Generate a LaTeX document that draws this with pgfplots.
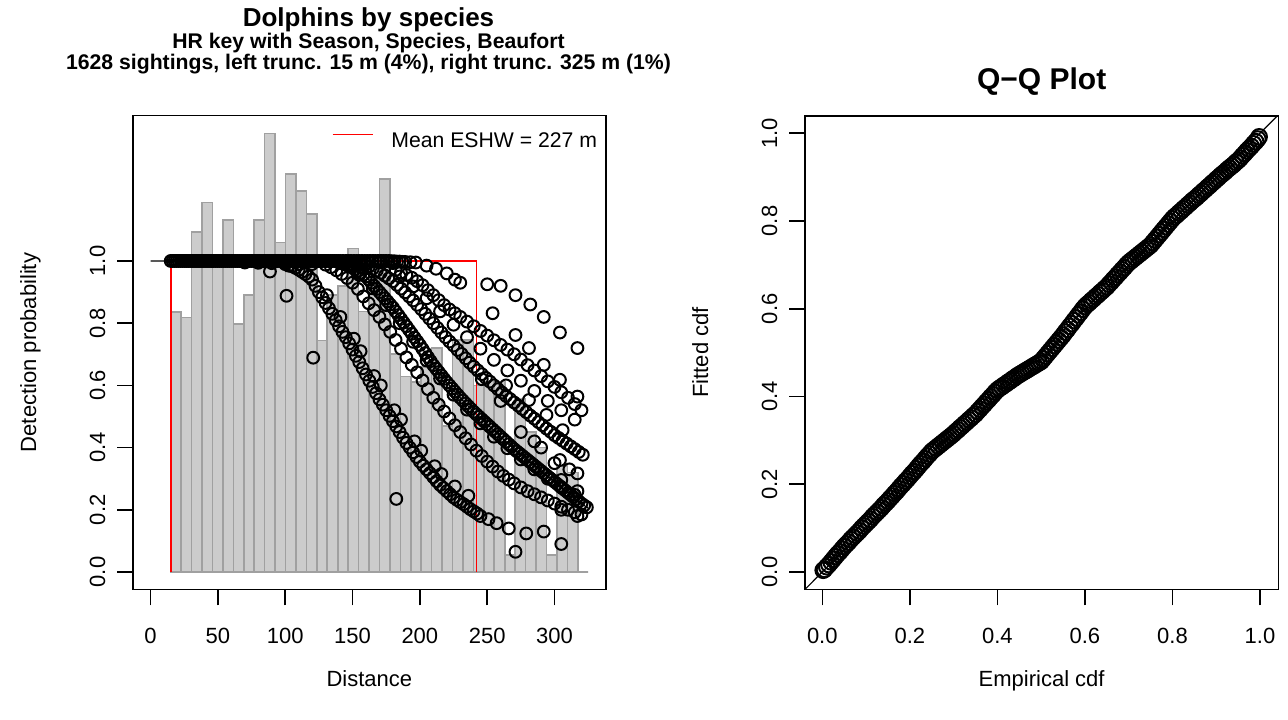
\documentclass[border=0pt]{standalone}
\usepackage{fontspec}
\setmainfont{Liberation Sans}
\usepackage{pgfplots}
\pgfplotsset{compat=1.18}
\definecolor{barfill}{RGB}{204,204,204}
\definecolor{barline}{RGB}{160,160,160}
\newcommand\fs[1]{\fontsize{#1}{#1}\selectfont}
\begin{document}
\begin{tikzpicture}
\path[use as bounding box] (0,0) rectangle (644pt,359.5pt);
\pgfplotsset{
  rstyle/.style={
    scale only axis,
    axis line style={line width=0.8pt},
    every tick/.style={line width=0.8pt, black},
    major tick length=8pt,
    tick align=outside,
    tick pos=left,
    ticklabel style={font=\fs{11}},
    label style={font=\fs{11}},
    /pgf/number format/assume math mode=true,
    xticklabel style={anchor=base, yshift=-19pt},
    yticklabel style={xshift=-6pt, rotate=90, anchor=base},
  },
  rmark/.style={only marks, mark=o, mark size=2.95pt, line width=1pt, black},
}
% ---------------- left panel ----------------
\begin{axis}[rstyle, at={(66.5pt,64.85pt)}, anchor=south west,
  width=236.35pt, height=236.8pt,
  xmin=-13, xmax=338, ymin=-0.0556, ymax=1.467,
  xtick={0,50,100,150,200,250,300}, xticklabels={0,50,100,150,200,250,300},
  ytick={0,0.2,0.4,0.6,0.8,1}, yticklabels={0.0,0.2,0.4,0.6,0.8,1.0},
  xlabel={Distance}, ylabel={Detection probability},
  xlabel style={at={(axis description cs:0.5,-0.2042)}, anchor=base},
  ylabel style={at={(axis description cs:-0.2052,0.5)}, anchor=base},
  legend style={draw=none, fill=none, at={(axis description cs:0.9816,0.9451)}, anchor=east,
    inner sep=0pt, outer sep=0pt, nodes={inner sep=0pt}, font=\fs{10.6}},
  legend cell align=left,
  legend image code/.code={\draw[#1] (0pt,0.36em) -- (20pt,0.36em); \path (29pt,0pt);},
]
\addplot[ybar interval, fill=barfill, draw=barline, line width=0.8pt, forget plot] coordinates {
(15,0.835)(22.75,0.818)(30.5,1.094)(38.25,1.188)(46,0.99)(53.75,1.132)(61.5,0.797)(69.25,0.89)
(77,1.132)(84.75,1.41)(92.5,1.059)(100.25,1.28)(108,1.225)(115.75,1.151)(123.5,0.744)(131.25,0.89)
(139,0.92)(146.75,1.04)(154.5,0.837)(162.25,0.98)(170,1.263)(177.75,0.70)(185.5,0.628)(193.25,0.61)
(201,0.66)(208.75,0.72)(216.5,0.47)(224.25,0.745)(232,0.745)(239.75,0.6)(247.5,0.612)(255.25,0.612)
(263,0.055)(270.75,0.556)(278.5,0.45)(286.25,0.40)(294,0.055)(301.75,0.34)(309.5,0.32)(317.25,0)(325,0)};
\addplot[rmark, forget plot] coordinates {
(15,1)(16.5,1)(18,1)(19.5,1)(21,1)(22.5,1)(24,1)(25.5,1)(27,1)(28.5,1)(30,1)(31.5,1)(33,1)(34.5,1)(36,1)(37.5,1)(39,1)(40.5,1)(42,1)(43.5,1)
(45,1)(46.5,1)(48,1)(49.5,1)(51,1)(52.5,1)(54,1)(55.5,1)(57,1)(58.5,1)(60,1)(61.5,1)(63,1)(64.5,1)(66,1)(67.5,1)(69,1)(70.5,1)(72,1)(73.5,1)
(75,1)(76.5,1)(78,1)(79.5,1)(81,1)(82.5,1)(84,1)(85.5,1)(87,1)(88.5,1)(90,1)(91.5,1)(93,1)(94.5,1)(96,1)(97.5,1)(99,1)(100.5,1)(102,1)(103.5,1)
(105,1)(106.5,1)(108,1)(109.5,1)(111,1)(112.5,1)(114,1)(115.5,1)(117,1)(118.5,1)(120,1)(121.5,1)(123,1)(124.5,1)(126,1)(127.5,1)(129,1)(130.5,1)
(132,1)(133.5,1)(135,1)(136.5,1)(138,1)(139.5,1)(141,1)(143,1)(145,1)(147,1)(149,1)(151,1)(153,1)(155,1)(157,1)(159,1)(161,1)(163,1)(165,1)
(167,1)(169,1)(171,1)(173,1)(175,1)(177,1)(179,0.999)(181,0.999)(183,0.998)(185,0.998)(187,0.997)(189,0.997)(193,0.996)(197,0.995)
(70,0.995)(80,0.994)(90,0.993)(100,0.995)(110,0.99)(120,0.99)(130,0.988)(150,0.99)(160,0.992)(170,0.995)(180,0.993)
(88.7,0.966)(101,0.888)(120.8,0.689)(182.5,0.235)
(100,0.99)(102.5,0.985)(105,0.983)(107.5,0.978)(110,0.972)(112.5,0.965)(115,0.958)(117.5,0.95)(120,0.94)(122.5,0.92)
(125,0.9)(127.5,0.883)(130,0.865)(132.5,0.848)(135,0.83)(137.5,0.81)(140,0.79)(142.5,0.772)(145,0.755)(147.5,0.735)
(150,0.715)(152.5,0.695)(155,0.675)(157.5,0.655)(160,0.635)(162.5,0.615)(165,0.595)(167.5,0.575)(170,0.555)(172.5,0.538)
(175,0.52)(177.5,0.502)(180,0.485)(182.5,0.468)(185,0.45)(187.5,0.432)(190,0.415)(192.5,0.4)(195,0.385)(197.5,0.37)
(200,0.355)(202.5,0.342)(205,0.33)(207.5,0.318)(210,0.305)(212.5,0.292)(215,0.28)(217.5,0.27)(220,0.26)(222.5,0.25)
(225,0.24)(227.5,0.232)(230,0.225)(232.5,0.218)(235,0.21)(237.5,0.202)(240,0.195)(242.5,0.188)(245,0.18)
(251,0.17)(257,0.157)(266,0.14)(271,0.065)(279,0.124)(292,0.13)(305,0.09)
(131,0.89)(141,0.82)(151,0.75)(156,0.71)(166,0.63)(171,0.6)(181,0.52)(186,0.49)(196,0.42)(201,0.39)(211,0.34)(216,0.315)(226,0.275)(236,0.245)
(134,0.98)(138,0.97)(142,0.958)(146,0.945)(150,0.93)(154,0.91)(158,0.886)(162,0.864)(166,0.842)(170,0.82)
(174,0.796)(178,0.772)(182,0.746)(186,0.718)(190,0.69)(194,0.666)(198,0.642)(202,0.616)(206,0.588)(210,0.56)
(214,0.538)(218,0.516)(222,0.494)(226,0.472)(230,0.45)(234,0.43)(238,0.41)(242,0.39)(246,0.373)(250,0.355)
(254,0.339)(258,0.323)(262,0.309)(266,0.297)(270,0.285)(275,0.272)(280,0.26)(285,0.25)(290,0.24)(295,0.23)
(300,0.22)(305,0.21)(310,0.2)(315,0.192)(320,0.185)
(155,0.955)(165,0.912)(175,0.858)(185,0.8)(195,0.74)(205,0.68)(215,0.622)(225,0.57)(235,0.522)(245,0.478)
(255,0.435)(265,0.398)(275,0.362)(285,0.33)(295,0.3)(305,0.272)(315,0.248)
(140,0.995)(142,0.992)(144,0.989)(146,0.986)(148,0.983)(150,0.98)(152,0.974)(154,0.968)(156,0.962)(158,0.956)
(160,0.95)(162,0.94)(164,0.93)(166,0.92)(168,0.91)(170,0.9)(172,0.89)(174,0.88)(176,0.87)(178,0.86)
(180,0.85)(182,0.838)(184,0.826)(186,0.814)(188,0.802)(190,0.79)(192,0.778)(194,0.766)(196,0.754)(198,0.742)
(200,0.73)(202,0.717)(204,0.704)(206,0.691)(208,0.678)(210,0.665)(212,0.654)(214,0.643)(216,0.632)(218,0.621)
(220,0.61)(222,0.6)(224,0.59)(226,0.58)(228,0.57)(230,0.56)(232,0.551)(234,0.542)(236,0.533)(238,0.524)
(240,0.515)(242,0.507)(244,0.499)(246,0.491)(248,0.483)(250,0.475)(252,0.467)(254,0.459)(256,0.451)(258,0.443)
(260,0.435)(262,0.427)(264,0.419)(266,0.411)(268,0.403)(270,0.395)(272,0.388)(274,0.381)(276,0.374)(278,0.367)
(280,0.36)(282,0.353)(284,0.346)(286,0.339)(288,0.332)(290,0.325)(292,0.318)(294,0.311)(296,0.304)(298,0.297)
(300,0.29)(302,0.283)(304,0.276)(306,0.269)(308,0.262)(310,0.255)(312,0.248)(314,0.241)(316,0.234)(318,0.227)
(320,0.22)(322,0.214)(324,0.208)
(153,0.992)(156,0.99)(159,0.986)(162,0.981)(165,0.975)(168,0.969)(171,0.962)(174,0.953)(177,0.944)(180,0.935)
(183,0.923)(186,0.911)(189,0.899)(192,0.886)(195,0.873)(198,0.859)(201,0.845)(204,0.83)(207,0.815)(210,0.8)
(213,0.785)(216,0.77)(219,0.755)(222,0.741)(225,0.728)(228,0.714)(231,0.701)(234,0.687)(237,0.673)(240,0.66)
(243,0.648)(246,0.636)(249,0.624)(252,0.612)(255,0.6)(258,0.588)(261,0.577)(264,0.566)(267,0.556)(270,0.545)
(273,0.535)(276,0.524)(279,0.514)(282,0.503)(285,0.493)(288,0.482)(291,0.472)(294,0.461)(297,0.451)(300,0.44)
(303,0.431)(306,0.422)(309,0.413)(312,0.404)(315,0.395)(318,0.386)(321,0.377)
(185,0.95)(195,0.918)(205,0.88)(215,0.838)(225,0.795)(235,0.755)(245,0.718)(255,0.682)(265,0.648)(275,0.615)
(285,0.582)(295,0.55)(305,0.52)(315,0.49)
(182,0.971)(186,0.963)(190,0.955)(194,0.946)(198,0.935)(202,0.922)(206,0.906)(210,0.89)(214,0.874)(218,0.858)
(222,0.844)(226,0.832)(230,0.82)(235,0.805)(240,0.79)(245,0.775)(250,0.76)(255,0.745)(260,0.73)(265,0.715)
(270,0.7)(275,0.683)(280,0.665)(285,0.648)(290,0.63)(295,0.613)(300,0.595)(305,0.578)(310,0.56)(315,0.54)(320,0.52)
(205,0.985)(212,0.975)(220,0.96)(226,0.94)(230,0.93)(250,0.925)(260,0.92)(271,0.89)(282,0.86)(292,0.82)(304,0.77)(317,0.72)
(254,0.832)(271,0.762)(281,0.72)(292,0.666)(304,0.618)(317,0.564)(317,0.317)(304,0.36)(305,0.296)(317,0.26)
(306,0.456)(294,0.505)(281,0.553)(264,0.6)(290,0.4)(300,0.35)(311,0.33)(285,0.42)(275,0.45)(317,0.18)(305,0.2)(246,0.62)(260,0.55)
};
\addplot[black, line width=0.6pt, forget plot] coordinates {
(0,1)(140,0.995)(150,0.98)(160,0.95)(170,0.9)(180,0.85)(190,0.79)(200,0.73)(210,0.665)(220,0.61)(230,0.56)
(240,0.515)(250,0.475)(260,0.435)(270,0.395)(280,0.36)(290,0.325)(300,0.29)(310,0.255)(320,0.22)(325,0.205)};
\addplot[red, line width=0.8pt] coordinates {(15,0)(15,1)(242,1)(242,0)};
\addlegendentry{Mean ESHW = 227 m}
\end{axis}
% ---------------- right panel ----------------
\begin{axis}[rstyle, at={(402.5pt,64.85pt)}, anchor=south west,
  width=236.65pt, height=236.8pt,
  xmin=-0.0395, xmax=1.0418, ymin=-0.0394, ymax=1.0401,
  xtick={0,0.2,0.4,0.6,0.8,1}, xticklabels={0.0,0.2,0.4,0.6,0.8,1.0},
  ytick={0,0.2,0.4,0.6,0.8,1}, yticklabels={0.0,0.2,0.4,0.6,0.8,1.0},
  xlabel={Empirical cdf}, ylabel={Fitted cdf},
  xlabel style={at={(axis description cs:0.5,-0.2042)}, anchor=base},
  ylabel style={at={(axis description cs:-0.2049,0.5)}, anchor=base},
]
\addplot[black, line width=0.6pt] coordinates {(-0.1,-0.1)(1.1,1.1)};
\addplot[rmark, mark size=3.9pt, line width=1pt] coordinates {
(0.002,0.004)(0.005,0.006)(0.01,0.012)(0.015,0.017)(0.02,0.023)(0.025,0.029)(0.03,0.035)(0.035,0.041)(0.04,0.046)(0.045,0.052)(0.05,0.058)
(0.055,0.063)(0.06,0.068)(0.065,0.074)(0.07,0.079)(0.075,0.084)(0.08,0.089)(0.085,0.094)(0.09,0.1)(0.095,0.105)(0.1,0.11)
(0.105,0.115)(0.11,0.12)(0.115,0.126)(0.12,0.131)(0.125,0.136)(0.13,0.141)(0.135,0.146)(0.14,0.152)(0.145,0.157)(0.15,0.162)
(0.155,0.168)(0.16,0.173)(0.165,0.179)(0.17,0.184)(0.175,0.19)(0.18,0.196)(0.185,0.201)(0.19,0.207)(0.195,0.212)(0.2,0.218)
(0.205,0.224)(0.21,0.229)(0.215,0.235)(0.22,0.241)(0.225,0.247)(0.23,0.252)(0.235,0.258)(0.24,0.264)(0.245,0.269)(0.25,0.275)
(0.255,0.279)(0.26,0.283)(0.265,0.287)(0.27,0.291)(0.275,0.295)(0.28,0.299)(0.285,0.303)(0.29,0.307)(0.295,0.311)(0.3,0.315)
(0.305,0.32)(0.31,0.324)(0.315,0.329)(0.32,0.333)(0.325,0.338)(0.33,0.342)(0.335,0.347)(0.34,0.351)(0.345,0.356)(0.35,0.36)
(0.355,0.366)(0.36,0.371)(0.365,0.377)(0.37,0.382)(0.375,0.388)(0.38,0.393)(0.385,0.399)(0.39,0.404)(0.395,0.41)(0.4,0.415)
(0.405,0.419)(0.41,0.422)(0.415,0.426)(0.42,0.429)(0.425,0.433)(0.43,0.436)(0.435,0.44)(0.44,0.443)(0.445,0.447)(0.45,0.45)
(0.455,0.453)(0.46,0.456)(0.465,0.459)(0.47,0.462)(0.475,0.465)(0.48,0.468)(0.485,0.471)(0.49,0.474)(0.495,0.477)(0.5,0.48)
(0.505,0.486)(0.51,0.492)(0.515,0.498)(0.52,0.504)(0.525,0.51)(0.53,0.516)(0.535,0.522)(0.54,0.528)(0.545,0.534)(0.55,0.54)
(0.555,0.547)(0.56,0.553)(0.565,0.56)(0.57,0.566)(0.575,0.573)(0.58,0.579)(0.585,0.586)(0.59,0.592)(0.595,0.599)(0.6,0.605)
(0.605,0.61)(0.61,0.614)(0.615,0.619)(0.62,0.623)(0.625,0.628)(0.63,0.632)(0.635,0.637)(0.64,0.641)(0.645,0.646)(0.65,0.65)
(0.655,0.656)(0.66,0.661)(0.665,0.667)(0.67,0.672)(0.675,0.678)(0.68,0.683)(0.685,0.689)(0.69,0.694)(0.695,0.7)(0.7,0.705)
(0.705,0.709)(0.71,0.713)(0.715,0.717)(0.72,0.721)(0.725,0.725)(0.73,0.729)(0.735,0.733)(0.74,0.737)(0.745,0.741)(0.75,0.745)
(0.755,0.751)(0.76,0.757)(0.765,0.763)(0.77,0.769)(0.775,0.775)(0.78,0.781)(0.785,0.787)(0.79,0.793)(0.795,0.799)(0.8,0.805)
(0.805,0.81)(0.81,0.814)(0.815,0.819)(0.82,0.823)(0.825,0.828)(0.83,0.832)(0.835,0.837)(0.84,0.841)(0.845,0.846)(0.85,0.85)
(0.855,0.854)(0.86,0.859)(0.865,0.863)(0.87,0.868)(0.875,0.872)(0.88,0.877)(0.885,0.881)(0.89,0.886)(0.895,0.89)(0.9,0.895)
(0.905,0.899)(0.91,0.904)(0.915,0.908)(0.92,0.912)(0.925,0.917)(0.93,0.921)(0.935,0.925)(0.94,0.929)(0.945,0.934)(0.95,0.938)
(0.955,0.943)(0.96,0.949)(0.965,0.954)(0.97,0.96)(0.975,0.965)(0.98,0.97)(0.985,0.976)(0.99,0.981)(0.995,0.987)(0.998,0.992)
};
\end{axis}
% ---------------- titles ----------------
\node[anchor=base, font=\bfseries\fs{13}] at (184.25pt,346pt) {Dolphins by species};
\node[anchor=base, font=\bfseries\fs{10.6}] at (184.25pt,335pt) {HR key with Season, Species, Beaufort};
\node[anchor=base, font=\bfseries\fs{10.6}] at (184.25pt,324.75pt) {1628 sightings, left trunc. 15 m (4\%), right trunc. 325 m (1\%)};
\node[anchor=base, font=\bfseries\fs{15}] at (520.85pt,314.5pt) {Q\textminus Q Plot};
\end{tikzpicture}
\end{document}
